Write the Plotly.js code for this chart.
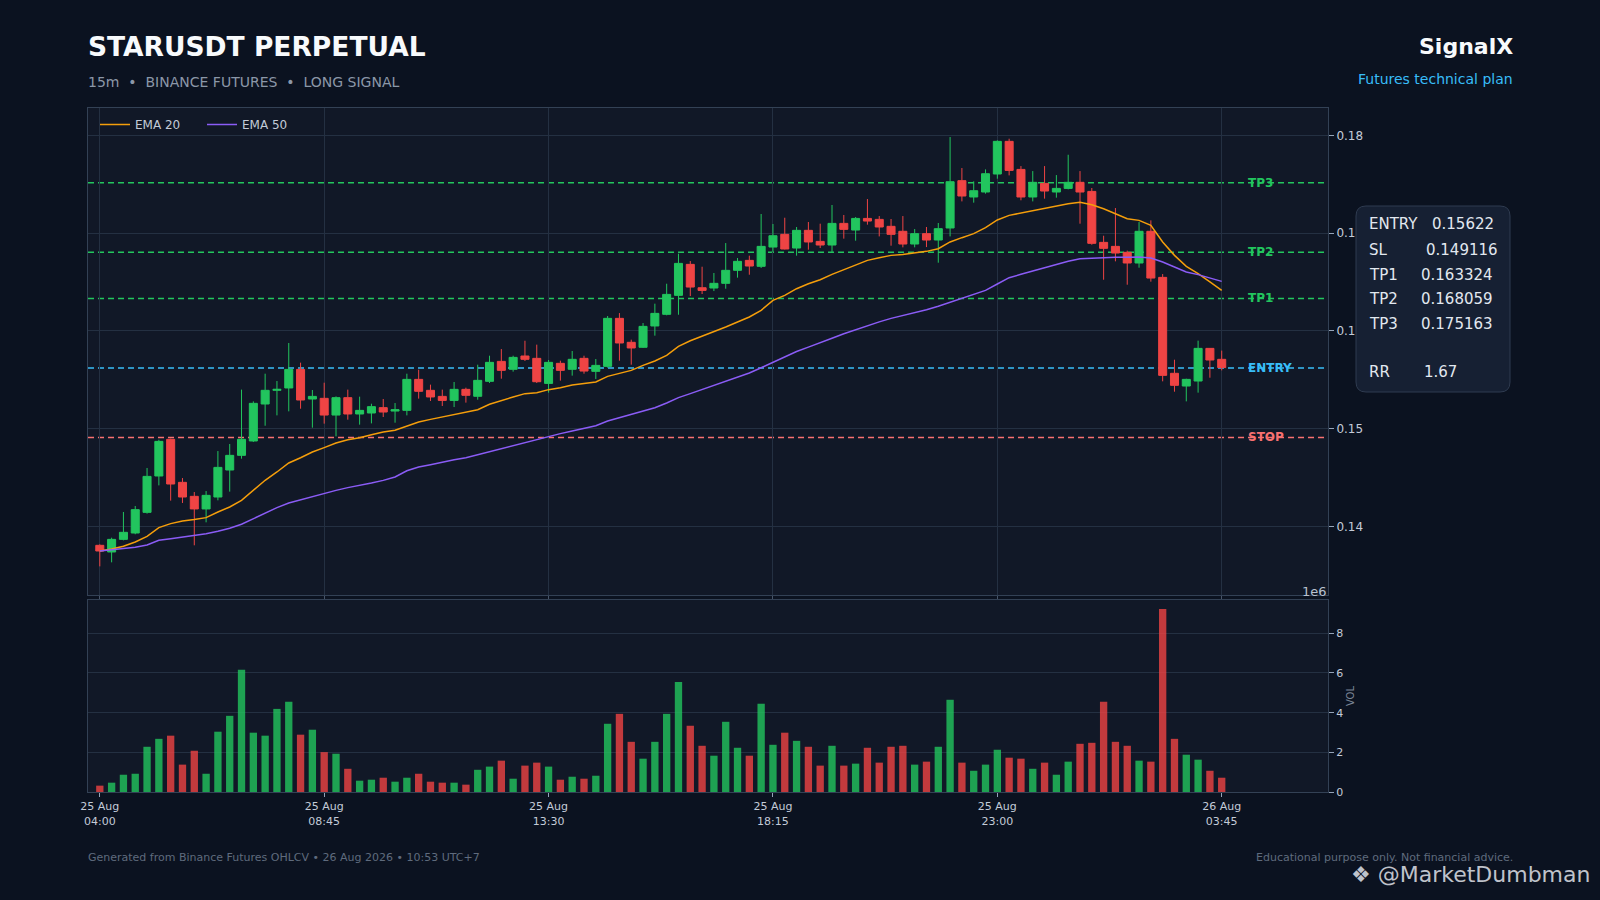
<!DOCTYPE html>
<html><head><meta charset="utf-8">
<script src="https://cdn.plot.ly/plotly-3.0.1.min.js"></script>
<style>html,body{margin:0;padding:0;background:#0b1220;}#chart{width:1600px;height:900px;}</style>
</head><body><div id="chart"></div>
<script>
// ---------- data ----------
const startTime = '2026-08-25T04:00:00Z';
const intervalMinutes = 15;

const opens = [0.13808,0.13740,0.13869,0.13934,0.14145,0.14517,0.14892,0.14452,0.14309,0.14180,
0.14302,0.14578,0.14728,0.14875,0.15253,0.15393,0.15417,0.15607,0.15304,0.15311,
0.15140,0.15318,0.15151,0.15161,0.15216,0.15181,0.15188,0.15505,0.15393,0.15331,
0.15290,0.15403,0.15332,0.15485,0.15689,0.15608,0.15744,0.15720,0.15464,0.15669,
0.15608,0.15720,0.15587,0.15638,0.16129,0.15884,0.15833,0.16051,0.16170,0.16364,
0.16681,0.16442,0.16439,0.16487,0.16620,0.16722,0.16661,0.16858,0.16988,0.16848,
0.17029,0.16916,0.16879,0.17100,0.17032,0.17151,0.17141,0.17070,0.17019,0.16889,
0.16995,0.16930,0.17053,0.17537,0.17370,0.17421,0.17605,0.17939,0.17652,0.17370,
0.17509,0.17421,0.17458,0.17520,0.17427,0.16906,0.16865,0.16804,0.16695,0.17019,
0.16548,0.15567,0.15437,0.15488,0.15822,0.15710];
const highs = [0.13818,0.13886,0.14149,0.14210,0.14599,0.14888,0.14899,0.14496,0.14353,0.14363,
0.14772,0.14844,0.15400,0.15280,0.15563,0.15488,0.15877,0.15676,0.15396,0.15471,
0.15331,0.15400,0.15328,0.15256,0.15304,0.15263,0.15563,0.15604,0.15451,0.15400,
0.15478,0.15420,0.15655,0.15747,0.15815,0.15747,0.15900,0.15860,0.15703,0.15696,
0.15795,0.15747,0.15713,0.16153,0.16183,0.15911,0.16081,0.16279,0.16483,0.16790,
0.16715,0.16657,0.16593,0.16899,0.16746,0.16770,0.17196,0.17094,0.17158,0.17063,
0.17114,0.17097,0.17288,0.17186,0.17165,0.17349,0.17175,0.17145,0.17175,0.17042,
0.17063,0.17104,0.17983,0.17666,0.17530,0.17652,0.17949,0.17966,0.17686,0.17635,
0.17686,0.17594,0.17802,0.17635,0.17462,0.16974,0.17257,0.16821,0.17114,0.17131,
0.16582,0.15706,0.15512,0.15901,0.15822,0.15799];
const lows = [0.13593,0.13634,0.13859,0.13921,0.14132,0.14421,0.14265,0.14241,0.13808,0.14043,
0.14268,0.14357,0.14694,0.14865,0.15031,0.15137,0.15178,0.15205,0.15011,0.15052,
0.14922,0.15093,0.15042,0.15055,0.15120,0.15062,0.15137,0.15308,0.15284,0.15233,
0.15222,0.15267,0.15297,0.15468,0.15512,0.15584,0.15693,0.15468,0.15369,0.15492,
0.15543,0.15563,0.15509,0.15624,0.15696,0.15655,0.15826,0.15952,0.16160,0.16166,
0.16357,0.16378,0.16408,0.16432,0.16545,0.16575,0.16644,0.16807,0.16834,0.16770,
0.16831,0.16848,0.16807,0.16944,0.16923,0.17087,0.16967,0.16872,0.16855,0.16855,
0.16858,0.16698,0.16967,0.17325,0.17312,0.17404,0.17557,0.17591,0.17336,0.17325,
0.17353,0.17363,0.17448,0.17097,0.16882,0.16524,0.16712,0.16473,0.16647,0.16504,
0.15485,0.15379,0.15280,0.15369,0.15522,0.15597];
const closes = [0.13750,0.13869,0.13941,0.14173,0.14513,0.14871,0.14435,0.14302,0.14180,0.14319,
0.14605,0.14728,0.14892,0.15260,0.15393,0.15403,0.15607,0.15294,0.15331,0.15140,
0.15318,0.15151,0.15188,0.15226,0.15171,0.15195,0.15505,0.15383,0.15325,0.15290,
0.15403,0.15342,0.15495,0.15679,0.15597,0.15730,0.15710,0.15481,0.15679,0.15597,
0.15710,0.15590,0.15648,0.16129,0.15877,0.15826,0.16047,0.16180,0.16374,0.16691,
0.16449,0.16415,0.16487,0.16620,0.16712,0.16664,0.16865,0.16974,0.16838,0.17029,
0.16910,0.16879,0.17100,0.17039,0.17151,0.17124,0.17063,0.16988,0.16889,0.16995,
0.16930,0.17046,0.17526,0.17380,0.17434,0.17608,0.17939,0.17642,0.17370,0.17520,
0.17431,0.17458,0.17520,0.17421,0.16896,0.16845,0.16797,0.16695,0.17019,0.16541,
0.15546,0.15444,0.15505,0.15822,0.15703,0.15625];
// volume in millions (axis note "1e6")
const volumes = [0.32,0.47,0.87,0.92,2.28,2.68,2.84,1.38,2.08,0.92,
3.04,3.84,6.16,2.99,2.84,4.19,4.55,2.89,3.14,2.01,
1.93,1.17,0.57,0.62,0.72,0.52,0.72,0.92,0.52,0.47,
0.47,0.37,1.12,1.28,1.58,0.67,1.33,1.48,1.28,0.62,
0.77,0.67,0.82,3.44,3.94,2.53,1.68,2.53,3.94,5.55,
3.34,2.33,1.83,3.54,2.23,1.83,4.45,2.38,2.99,2.58,
2.28,1.33,2.33,1.33,1.43,2.23,1.48,2.28,2.33,1.38,
1.53,2.28,4.65,1.48,1.07,1.38,2.13,1.73,1.68,1.17,
1.48,0.87,1.53,2.43,2.48,4.55,2.53,2.33,1.58,1.53,
9.23,2.68,1.88,1.63,1.07,0.72];
const ema20 = [0.13750,0.13770,0.13798,0.13842,0.13900,0.13989,0.14030,0.14057,0.14071,0.14091,
0.14149,0.14200,0.14268,0.14371,0.14473,0.14558,0.14650,0.14704,0.14762,0.14807,
0.14854,0.14888,0.14909,0.14939,0.14967,0.14984,0.15030,0.15069,0.15096,0.15120,
0.15144,0.15164,0.15195,0.15250,0.15290,0.15325,0.15359,0.15369,0.15400,0.15420,
0.15448,0.15461,0.15478,0.15536,0.15570,0.15597,0.15648,0.15693,0.15751,0.15843,
0.15900,0.15945,0.15989,0.16040,0.16092,0.16143,0.16211,0.16313,0.16364,0.16432,
0.16483,0.16524,0.16579,0.16627,0.16681,0.16722,0.16749,0.16773,0.16783,0.16800,
0.16814,0.16841,0.16910,0.16954,0.16995,0.17056,0.17135,0.17182,0.17206,0.17233,
0.17254,0.17274,0.17301,0.17315,0.17291,0.17250,0.17199,0.17148,0.17131,0.17080,
0.16910,0.16773,0.16661,0.16586,0.16501,0.16415];
const ema50 = [0.13750,0.13764,0.13777,0.13788,0.13811,0.13859,0.13876,0.13893,0.13903,0.13927,
0.13951,0.13982,0.14023,0.14081,0.14138,0.14193,0.14241,0.14275,0.14309,0.14343,
0.14370,0.14398,0.14418,0.14445,0.14472,0.14507,0.14570,0.14609,0.14633,0.14660,
0.14684,0.14704,0.14735,0.14769,0.14796,0.14830,0.14864,0.14895,0.14926,0.14950,
0.14977,0.15001,0.15031,0.15079,0.15113,0.15144,0.15178,0.15215,0.15263,0.15318,
0.15359,0.15400,0.15440,0.15485,0.15529,0.15570,0.15624,0.15680,0.15730,0.15790,
0.15835,0.15877,0.15925,0.15972,0.16015,0.16057,0.16093,0.16129,0.16157,0.16184,
0.16218,0.16252,0.16291,0.16330,0.16372,0.16415,0.16480,0.16545,0.16579,0.16613,
0.16644,0.16678,0.16712,0.16739,0.16746,0.16749,0.16753,0.16753,0.16756,0.16746,
0.16705,0.16654,0.16603,0.16576,0.16545,0.16507];

const levelNames  = ['TP3','TP2','TP1','ENTRY','STOP'];
const levelValues = [0.175163,0.168059,0.163324,0.15622,0.149116];
const planLabels  = ['ENTRY','SL','TP1','TP2','TP3','RR'];
const planValues  = ['0.15622','0.149116','0.163324','0.168059','0.175163','1.67'];
const tickIndex   = [0,19,38,57,76,95];
const tickLabels  = ['25 Aug<br>04:00','25 Aug<br>08:45','25 Aug<br>13:30','25 Aug<br>18:15','25 Aug<br>23:00','26 Aug<br>03:45'];

// ---------- helpers ----------
const t0 = Date.parse(startTime);
const step = intervalMinutes*60000;
function fmt(ms){const d=new Date(ms);const p=n=>String(n).padStart(2,'0');
  return d.getUTCFullYear()+'-'+p(d.getUTCMonth()+1)+'-'+p(d.getUTCDate())+' '+p(d.getUTCHours())+':'+p(d.getUTCMinutes());}
const times = opens.map((_,i)=>fmt(t0+i*step));
const xRange = [fmt(t0-step), fmt(t0+(opens.length+8)*step)];

const L=88,R=1328,T=108,B=792,W=R-L,H=B-T;
const px = x => (x-L)/W;
const py = y => (B-y)/H;

const GREEN='#22c55e', RED='#ef4444';
const levelColors = {TP3:GREEN,TP2:GREEN,TP1:GREEN,ENTRY:'#38bdf8',STOP:'#f87171'};

// ---------- traces ----------
const traces = [
 {type:'candlestick',x:times,open:opens,high:highs,low:lows,close:closes,xaxis:'x',yaxis:'y',
  increasing:{line:{color:GREEN,width:1},fillcolor:GREEN},
  decreasing:{line:{color:RED,width:1},fillcolor:RED},
  showlegend:false,hoverinfo:'skip'},
 {type:'scatter',mode:'lines',x:times,y:ema20,name:'EMA 20',line:{color:'#f59e0b',width:1.5},xaxis:'x',yaxis:'y',hoverinfo:'skip'},
 {type:'scatter',mode:'lines',x:times,y:ema50,name:'EMA 50',line:{color:'#8b5cf6',width:1.5},xaxis:'x',yaxis:'y',hoverinfo:'skip'},
 {type:'bar',x:times,y:volumes,xaxis:'x2',yaxis:'y2',showlegend:false,hoverinfo:'skip',
  marker:{color:closes.map((c,i)=>c>=opens[i]?'rgba(34,197,94,0.8)':'rgba(239,68,68,0.8)'),line:{width:0}}}
];

// ---------- shapes ----------
const shapes = levelValues.map((v,i)=>({type:'line',xref:'paper',x0:0,x1:1,yref:'y',y0:v,y1:v,layer:'between',
  line:{color:levelColors[levelNames[i]],width:1.5,dash:'6px,4px'}}));
function roundRect(x0,y0,x1,y1,r){
  const P=(x,y)=>px(x)+','+py(y);
  return 'M'+P(x0+r,y0)+' L'+P(x1-r,y0)+' Q'+P(x1,y0)+' '+P(x1,y0+r)+' L'+P(x1,y1-r)+' Q'+P(x1,y1)+' '+P(x1-r,y1)+
    ' L'+P(x0+r,y1)+' Q'+P(x0,y1)+' '+P(x0,y1-r)+' L'+P(x0,y0+r)+' Q'+P(x0,y0)+' '+P(x0+r,y0)+' Z';
}
shapes.push({type:'path',xref:'paper',yref:'paper',path:roundRect(1356,206,1510,392,10),
  fillcolor:'#162033',line:{color:'#2f3b50',width:1},layer:'above'});

// ---------- annotations ----------
const ann = [];
const A = (o)=>ann.push(Object.assign({xref:'paper',yref:'paper',showarrow:false,xanchor:'left',yanchor:'middle'},o));
A({x:px(86),y:py(46),text:'<b>STARUSDT PERPETUAL</b>',font:{size:26.5,color:'#f8fafc'}});
A({x:px(86),y:py(82),text:'15m  •  BINANCE FUTURES  •  LONG SIGNAL',font:{size:14,color:'#8b97a8'}});
A({x:px(1515),y:py(47),xanchor:'right',text:'<b>SignalX</b>',font:{size:22,color:'#f8fafc'}});
A({x:px(1515),y:py(79),xanchor:'right',text:'Futures technical plan',font:{size:14,color:'#38bdf8'}});
A({x:px(86),y:py(857),text:'Generated from Binance Futures OHLCV • 26 Aug 2026 • 10:53 UTC+7',font:{size:11,color:'#5f6b7d'}});
A({x:px(1515),y:py(857),xanchor:'right',text:'Educational purpose only. Not financial advice.',font:{size:11,color:'#5f6b7d'}});
A({x:px(1592),y:py(875),xanchor:'right',text:'❖ @MarketDumbman',font:{size:22,color:'rgba(225,228,235,0.85)'}});
A({x:px(1329),y:py(591),xanchor:'right',text:'1e6',font:{size:13,color:'#b8c2d0'}});
levelNames.forEach((n,i)=>ann.push({xref:'paper',x:px(1246),xanchor:'left',yref:'y',y:levelValues[i],yanchor:'middle',
  showarrow:false,text:'<b>'+n+'</b>',font:{size:12,color:levelColors[n]}}));
const planY = [224,249.5,274.5,299,323.5,372];
const planX = [1430,1424,1419,1419,1419,1422];
planLabels.forEach((l,i)=>{
  A({x:px(1367),y:py(planY[i]),text:l,font:{size:15,color:'#e2e8f0'}});
  A({x:px(planX[i]),y:py(planY[i]),text:planValues[i],font:{size:15,color:'#e2e8f0'}});
});

// ---------- layout ----------
const gridC='#243042', lineC='#334155', tickFont={size:12,color:'#c3cbd8'};
const layout = {
 width:1600,height:900,
 margin:{l:L,r:1600-R,t:T,b:900-B,pad:0},
 paper_bgcolor:'#0b1220',plot_bgcolor:'#111827',
 font:{family:'DejaVu Sans',color:'#c3cbd8'},
 showlegend:true,
 legend:{x:px(95),y:py(110),xanchor:'left',yanchor:'top',orientation:'h',bgcolor:'rgba(0,0,0,0)',
   font:{size:12,color:'#c3cbd8'},entrywidth:62,entrywidthmode:'pixels'},
 bargap:0.38,
 boxgap:0.32,boxgroupgap:0,
 xaxis:{type:'date',range:xRange,domain:[0,1],anchor:'y',showgrid:true,gridcolor:gridC,zeroline:false,
   showline:true,mirror:true,linecolor:lineC,ticks:'outside',ticklen:4,tickcolor:'#475569',
   tickmode:'array',tickvals:tickIndex.map(i=>times[i]),showticklabels:false,rangeslider:{visible:false}},
 xaxis2:{type:'date',range:xRange,domain:[0,1],anchor:'y2',matches:'x',showgrid:false,zeroline:false,
   showline:true,mirror:true,linecolor:lineC,ticks:'outside',ticklen:4,tickcolor:'#94a3b8',
   tickmode:'array',tickvals:tickIndex.map(i=>times[i]),ticktext:tickLabels,tickfont:{size:11,color:'#c3cbd8'}},
 yaxis:{domain:[(B-595)/H,1],anchor:'x',side:'right',range:[0.1330,0.1828],dtick:0.01,tick0:0.14,tickformat:'.2f',
   showgrid:true,gridcolor:gridC,zeroline:false,showline:true,mirror:true,linecolor:lineC,
   ticks:'outside',ticklen:5,tickcolor:'#94a3b8',tickfont:tickFont},
 yaxis2:{domain:[0,(B-600)/H],anchor:'x2',side:'right',range:[0,9.68],tickvals:[0,2,4,6,8],
   showgrid:true,gridcolor:gridC,zeroline:false,showline:true,mirror:true,linecolor:lineC,
   ticks:'outside',ticklen:5,tickcolor:'#94a3b8',tickfont:{size:11,color:'#c3cbd8'},
   title:{text:'VOL',font:{size:10,color:'#7c8798'},standoff:4}},
 shapes:shapes,
 annotations:ann
};
Plotly.newPlot('chart',traces,layout,{displayModeBar:false,staticPlot:true});
</script></body></html>
